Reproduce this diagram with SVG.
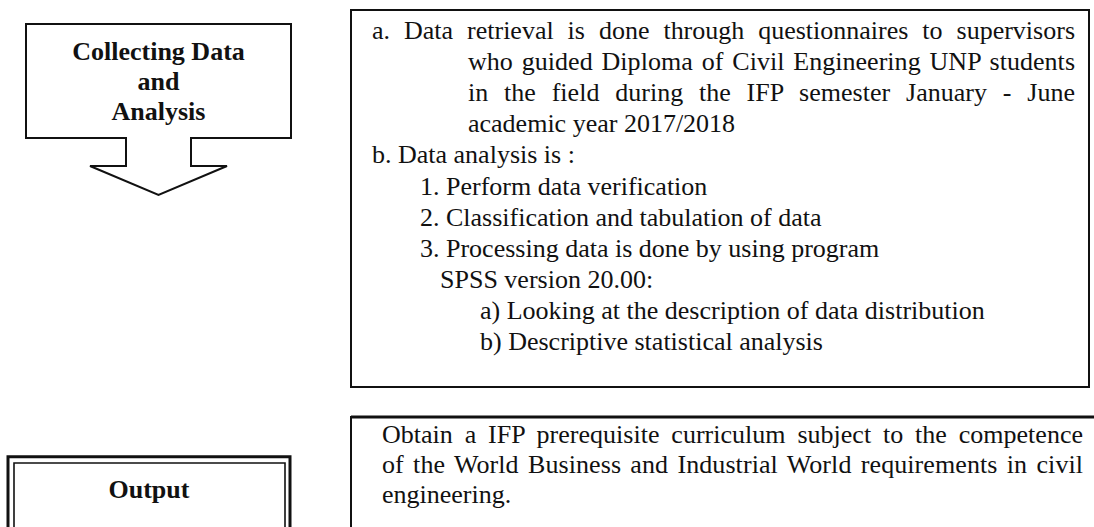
<svg xmlns="http://www.w3.org/2000/svg" width="1094" height="527" viewBox="0 0 1094 527">
<style>
.frame{fill:#fff;stroke:#111;stroke-width:2}
.open{fill:none;stroke:#111}
.t{font-family:"Liberation Serif","Times New Roman",serif;font-size:26px;fill:#111}
.b{font-family:"Liberation Serif","Times New Roman",serif;font-size:26px;font-weight:bold;fill:#111;text-anchor:middle}
</style>
<rect width="1094" height="527" fill="#fff"/>
<g id="collecting">
<polygon class="frame" points="26,24 291,24 291,138 191,138 191,166 227,166 158.5,195 90,166 126,166 126,138 26,138"/>
<text class="b" x="158.5" y="60">Collecting Data</text>
<text class="b" x="158.5" y="90">and</text>
<text class="b" x="158.5" y="120">Analysis</text>
</g>
<g id="analysis-box">
<rect class="frame" x="351" y="10" width="738" height="377"/>
<text class="t" x="372" y="39" word-spacing="7.45" textLength="703" lengthAdjust="spacing">a. Data retrieval is done through questionnaires to supervisors</text>
<text class="t" x="468" y="70.1" word-spacing="2.4" textLength="607" lengthAdjust="spacing">who guided Diploma of Civil Engineering UNP students</text>
<text class="t" x="468" y="101.2" word-spacing="9.28" textLength="607" lengthAdjust="spacing">in the field during the IFP semester January - June</text>
<text class="t" x="468" y="132.3">academic year 2017/2018</text>
<text class="t" x="372" y="163.4">b. Data analysis is :</text>
<text class="t" x="420" y="194.5">1. Perform data verification</text>
<text class="t" x="420" y="225.6">2. Classification and tabulation of data</text>
<text class="t" x="420" y="256.7">3. Processing data is done by using program</text>
<text class="t" x="440" y="287.8">SPSS version 20.00:</text>
<text class="t" x="480" y="318.9">a) Looking at the description of data distribution</text>
<text class="t" x="480" y="350">b) Descriptive statistical analysis</text>
</g>
<g id="output">
<path class="open" stroke-width="3" d="M8,530 V456.7 H290 V530"/>
<path class="open" stroke-width="1.6" d="M14,530 V463 H285 V530"/>
<text class="b" x="149" y="498">Output</text>
</g>
<g id="output-box">
<path class="open" stroke-width="3" d="M351,417 H1096"/>
<path class="open" stroke-width="2" d="M351,416 V530"/>
<text class="t" x="382" y="443" word-spacing="5.3" textLength="701" lengthAdjust="spacing">Obtain a IFP prerequisite curriculum subject to the competence</text>
<text class="t" x="382" y="473" word-spacing="2.7" textLength="701" lengthAdjust="spacing">of the World Business and Industrial World requirements in civil</text>
<text class="t" x="382" y="503">engineering.</text>
</g>
</svg>
